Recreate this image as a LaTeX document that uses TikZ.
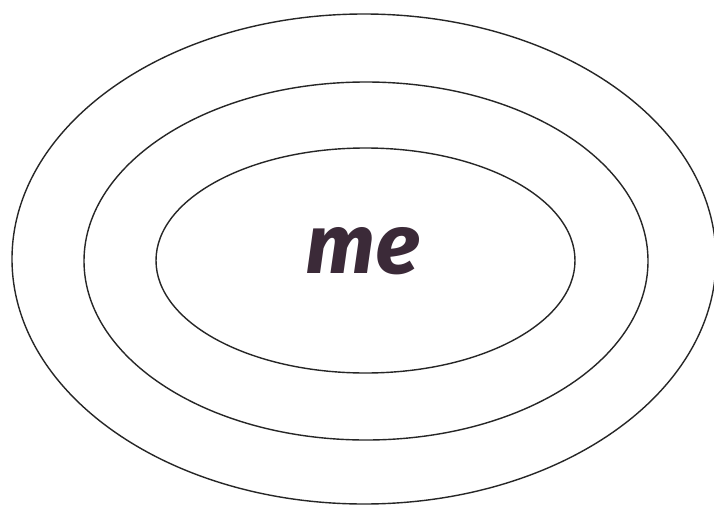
\documentclass[tikz,border=0pt]{standalone}
\usepackage{fontspec}
\setmainfont{Fira Sans}
\begin{document}
\begin{tikzpicture}[x=1pt,y=-1pt,
  ring/.style={draw=black!85, line width=1.4pt},
  metext/.style={font=\fontsize{84}{90}\selectfont\bfseries\itshape, text=mecolor, inner sep=0pt}]
\definecolor{mecolor}{HTML}{3B2A38}
\useasboundingbox[fill=white] (0,0) rectangle (714,506);
\draw[ring] (364,259) ellipse [x radius=352, y radius=245];
\draw[ring] (366,261) ellipse [x radius=282, y radius=179];
\draw[ring] (365.5,260.5) ellipse [x radius=209.5, y radius=112.5];
\node[metext, anchor=base] (me) at (363,273) {me};
\end{tikzpicture}
\end{document}
